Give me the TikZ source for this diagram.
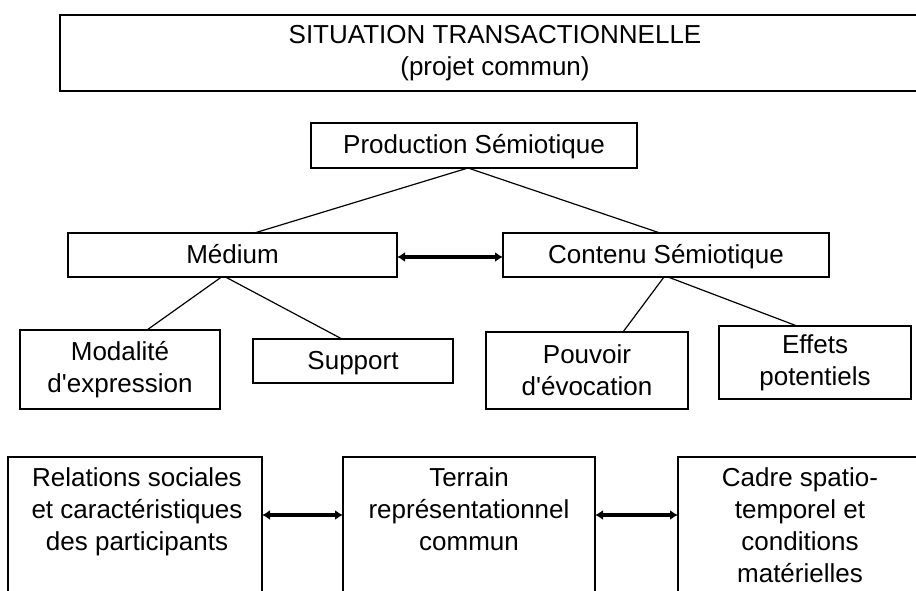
\documentclass[tikz,border=0pt]{standalone}
\usepackage{fontspec}
\setmainfont{Liberation Sans}
\usetikzlibrary{arrows.meta}
\begin{document}
\begin{tikzpicture}[x=1pt,y=-1pt,
  every node/.style={font=\fontsize{26}{32}\selectfont, align=center, inner sep=0pt, outer sep=0pt},
  box/.style={draw=black, line width=1.5pt},
  oneline/.style={text height=21pt, text depth=5pt},
  bigbox/.style={draw=black, line width=2.4pt},
  label/.style={anchor=north},
  link/.style={line width=1.2pt},
  dbl/.style={line width=3.6pt, {Latex[length=8pt,width=10pt]}-{Latex[length=8pt,width=10pt]}}
]
\useasboundingbox (0,0) rectangle (916,591);
\fill[white] (0,0) rectangle (916,591);
\clip (0,0) rectangle (916,591);

% transactional situation
\node[bigbox, minimum width=870pt, minimum height=76pt] (sit) at (495,53)
  {SITUATION TRANSACTIONNELLE\\(projet commun)};

% semiotic production and its two components
\node[box, oneline, minimum width=326pt, minimum height=45pt] (ps) at (474,145.5) {Production Sémiotique};
\node[box, oneline, minimum width=329pt, minimum height=44pt] (med) at (232.5,255) {Médium};
\node[box, oneline, minimum width=326pt, minimum height=44pt] (cont) at (666,255) {Contenu Sémiotique};

% leaves of the medium
\node[box, minimum width=200pt, minimum height=79pt] (moda) at (120,369.5) {Modalité\\d\textquotesingle expression};
\node[box, oneline, minimum width=200pt, minimum height=44pt] (supp) at (353,361) {Support};

% leaves of the semiotic content
\node[box, minimum width=202pt, minimum height=77pt] (pouv) at (587,370.5) {Pouvoir\\d\textquotesingle évocation};
\node[box, minimum width=192pt, minimum height=73pt] (eff) at (815,362.5) {Effets\\potentiels};

% bottom row (boxes run past the lower edge)
\node[box, minimum width=254pt, minimum height=163pt] (rel) at (135,538.5) {};
\node[box, minimum width=252pt, minimum height=163pt] (terr) at (469,538.5) {};
\node[box, minimum width=244pt, minimum height=163pt] (cadre) at (800,538.5) {};
\node[label] (reltxt) at (137,468) {Relations sociales\\et caractéristiques\\des participants};
\node[label] (terrtxt) at (469,468) {Terrain\\représentationnel\\commun};
\node[label] (cadretxt) at (800,468) {Cadre spatio-\\temporel et\\conditions\\matérielles};

% tree links
\draw[link] ([xshift=-6pt]ps.south) -- ([xshift=22pt]med.north);
\draw[link] ([xshift=-6pt]ps.south) -- ([xshift=-6pt]cont.north);
\draw[link] ([xshift=-11pt]med.south) -- ([xshift=27pt]moda.north);
\draw[link] ([xshift=-7pt]med.south) -- ([xshift=-11pt]supp.north);
\draw[link] ([xshift=-2pt]cont.south) -- ([xshift=36pt]pouv.north);
\draw[link] ([xshift=2pt]cont.south) -- ([xshift=-18pt]eff.north);

% two-way relations
\draw[dbl] ([yshift=-2pt]med.east) -- ([yshift=-2pt]cont.west);
\draw[dbl] ([yshift=23.5pt]rel.east) -- ([yshift=23.5pt]terr.west);
\draw[dbl] ([yshift=23.5pt]terr.east) -- ([yshift=23.5pt]cadre.west);
\end{tikzpicture}
\end{document}
